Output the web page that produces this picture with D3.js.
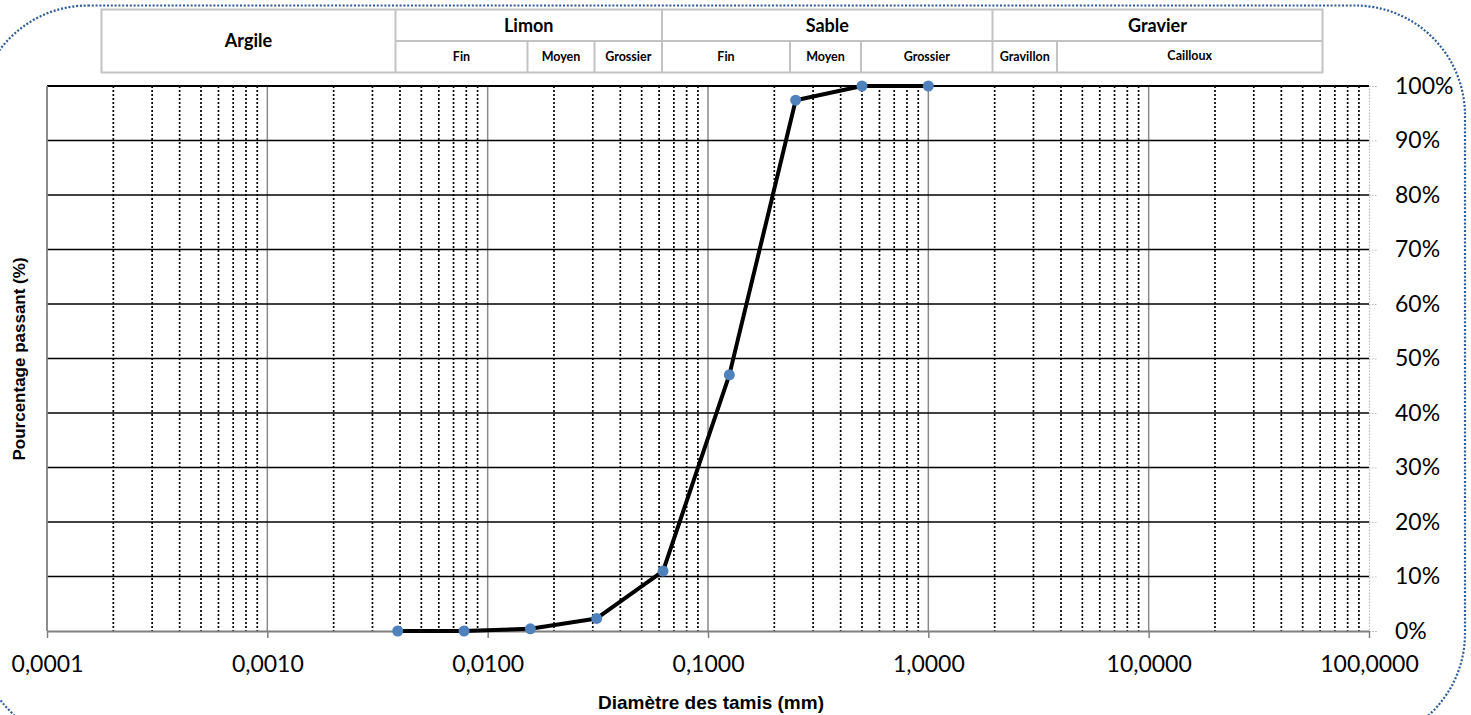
<!DOCTYPE html>
<html><head><meta charset="utf-8">
<script src="https://cdn.jsdelivr.net/npm/d3@7"></script>
<style>body{margin:0;background:#fff}svg{display:block}</style>
</head><body><svg id="c" width="1471" height="715"></svg>
<script>
// ---- data ----
const diameters = [0.00390625, 0.0078125, 0.015625, 0.03125, 0.0625, 0.125, 0.25, 0.5, 1];
const passing   = [0.0, 0.0, 0.004, 0.023, 0.11, 0.47, 0.974, 1.0, 1.0];
const xTickValues = [0.0001, 0.001, 0.01, 0.1, 1, 10, 100];
const yTickValues = [0, 0.1, 0.2, 0.3, 0.4, 0.5, 0.6, 0.7, 0.8, 0.9, 1.0];
const mainClasses = ["Argile", "Limon", "Sable", "Gravier"];
const subClasses = [["Fin","Moyen","Grossier"],["Fin","Moyen","Grossier"],["Gravillon","Cailloux"]];

// ---- layout ----
const svg = d3.select("#c");
const x = d3.scaleLog().domain([0.0001, 100]).range([47, 1369]);
const y = d3.scaleLinear().domain([0, 1]).range([631, 86]);
const tickFont = "Lato, 'Open Sans', sans-serif";
const titleFont = "'Liberation Sans', Arial, sans-serif";

// rounded dotted frame
svg.append("rect").attr("x", -22).attr("y", 5.5).attr("width", 1487).attr("height", 738)
  .attr("rx", 110).attr("ry", 110).attr("fill", "none")
  .attr("stroke", "#2f5c98").attr("stroke-width", 2.2).attr("stroke-dasharray", "2 1.8");

// header table
const hdrTop = 9.5, hdrMid = 41, hdrBot = 72.5;
const hdrCols = [101.5, 395.5, 662, 992.5, 1322.5];
const subCols = [[395.5, 527.5, 594.5, 662], [662, 790, 861, 992.5], [992.5, 1057, 1322.5]];
const hg = svg.append("g");
const cellStroke = "#c3c3c3";
hg.append("rect").attr("x", hdrCols[0]).attr("y", hdrTop).attr("width", hdrCols[4]-hdrCols[0])
  .attr("height", hdrBot-hdrTop).attr("fill", "none").attr("stroke", cellStroke).attr("stroke-width", 2);
hdrCols.slice(1, 4).forEach(c => hg.append("line").attr("x1", c).attr("x2", c).attr("y1", hdrTop).attr("y2", hdrBot)
  .attr("stroke", cellStroke).attr("stroke-width", 2));
hg.append("line").attr("x1", hdrCols[1]).attr("x2", hdrCols[4]).attr("y1", hdrMid).attr("y2", hdrMid)
  .attr("stroke", cellStroke).attr("stroke-width", 2);
mainClasses.forEach((name, i) => {
  const cx = (hdrCols[i] + hdrCols[i+1]) / 2;
  const cy = i === 0 ? (hdrTop + hdrBot) / 2 : (hdrTop + hdrMid) / 2;
  hg.append("text").attr("x", cx).attr("y", cy).attr("dy", "0.36em").attr("text-anchor", "middle")
    .attr("font-family", tickFont).attr("font-weight", "bold").attr("font-size", 18).text(name);
});
subClasses.forEach((subs, i) => {
  const edges = subCols[i];
  edges.slice(1, -1).forEach(c => hg.append("line").attr("x1", c).attr("x2", c).attr("y1", hdrMid).attr("y2", hdrBot)
    .attr("stroke", cellStroke).attr("stroke-width", 2));
  subs.forEach((s, j) => {
    const cx = (edges[j] + edges[j+1]) / 2;
    const cy = s === "Cailloux" ? 55 : (hdrMid + hdrBot) / 2;
    hg.append("text").attr("x", cx).attr("y", cy).attr("dy", "0.36em").attr("text-anchor", "middle")
      .attr("font-family", tickFont).attr("font-weight", "bold").attr("font-size", 12.5).text(s);
  });
});

// minor vertical dotted grid
const minor = [];
for (let e = -4; e < 2; e++) for (let m = 2; m <= 9; m++) minor.push(m * Math.pow(10, e));
svg.append("g").selectAll("line").data(minor).join("line")
  .attr("x1", d => x(d)).attr("x2", d => x(d)).attr("y1", y(1)).attr("y2", y(0))
  .attr("stroke", "#000").attr("stroke-width", 1.7).attr("stroke-dasharray", "2 2");

// major vertical grid
svg.append("g").selectAll("line").data(xTickValues.slice(1, -1)).join("line")
  .attr("x1", d => x(d)).attr("x2", d => x(d)).attr("y1", y(1)).attr("y2", y(0))
  .attr("stroke", "#8a8a8a").attr("stroke-width", 1.5);

// horizontal grid
svg.append("g").selectAll("line").data(yTickValues.slice(1)).join("line")
  .attr("x1", x(0.0001)).attr("x2", x(100)).attr("y1", d => y(d)).attr("y2", d => y(d))
  .attr("stroke", "#000").attr("stroke-width", d => d === 1 ? 2 : 1.5);

// right axis (light dotted)
const yAxis = d3.axisRight(y).tickValues(yTickValues).tickSize(8).tickFormat(d3.format(".0%")).tickPadding(18);
const ya = svg.append("g").attr("transform", `translate(${x(100)},0)`).call(yAxis);
ya.select(".domain").attr("stroke", "#bdbdbd").attr("stroke-width", 1.2).attr("stroke-dasharray", "1.5 1.5");
ya.selectAll(".tick line").attr("stroke", "#bdbdbd").attr("stroke-width", 1.2).attr("stroke-dasharray", "1.5 1.5");
ya.selectAll("text").attr("font-family", tickFont).attr("font-size", 23).attr("fill", "#000");

// bottom axis
const fmtX = d => d.toFixed(4).replace(".", ",");
const xAxis = d3.axisBottom(x).tickValues(xTickValues).tickSize(7).tickSizeOuter(0).tickFormat(fmtX).tickPadding(18);
const xa = svg.append("g").attr("transform", `translate(0,${y(0)})`).call(xAxis);
xa.select(".domain").attr("stroke", "#808080").attr("stroke-width", 1.8);
xa.selectAll(".tick line").attr("stroke", "#808080").attr("stroke-width", 1.5);
xa.selectAll("text").attr("font-family", tickFont).attr("font-size", 23).attr("fill", "#000");

// left axis line
svg.append("line").attr("x1", x(0.0001)).attr("x2", x(0.0001)).attr("y1", y(1)).attr("y2", y(0))
  .attr("stroke", "#808080").attr("stroke-width", 1.8);

// data line
const pts = diameters.map((d, i) => [d, passing[i]]);
svg.append("path").datum(pts)
  .attr("d", d3.line().x(d => x(d[0])).y(d => y(d[1])))
  .attr("fill", "none").attr("stroke", "#000").attr("stroke-width", 4).attr("stroke-linejoin", "round");
svg.append("g").selectAll("circle").data(pts).join("circle")
  .attr("cx", d => x(d[0])).attr("cy", d => y(d[1])).attr("r", 5.5).attr("fill", "#4f81bd");

// axis titles
svg.append("text").attr("x", 711).attr("y", 709).attr("text-anchor", "middle")
  .attr("font-family", titleFont).attr("font-weight", "bold").attr("font-size", 19)
  .text("Diamètre des tamis (mm)");
svg.append("text").attr("transform", "translate(25,359) rotate(-90)").attr("text-anchor", "middle")
  .attr("font-family", titleFont).attr("font-weight", "bold").attr("font-size", 17)
  .text("Pourcentage passant (%)");
</script></body></html>
